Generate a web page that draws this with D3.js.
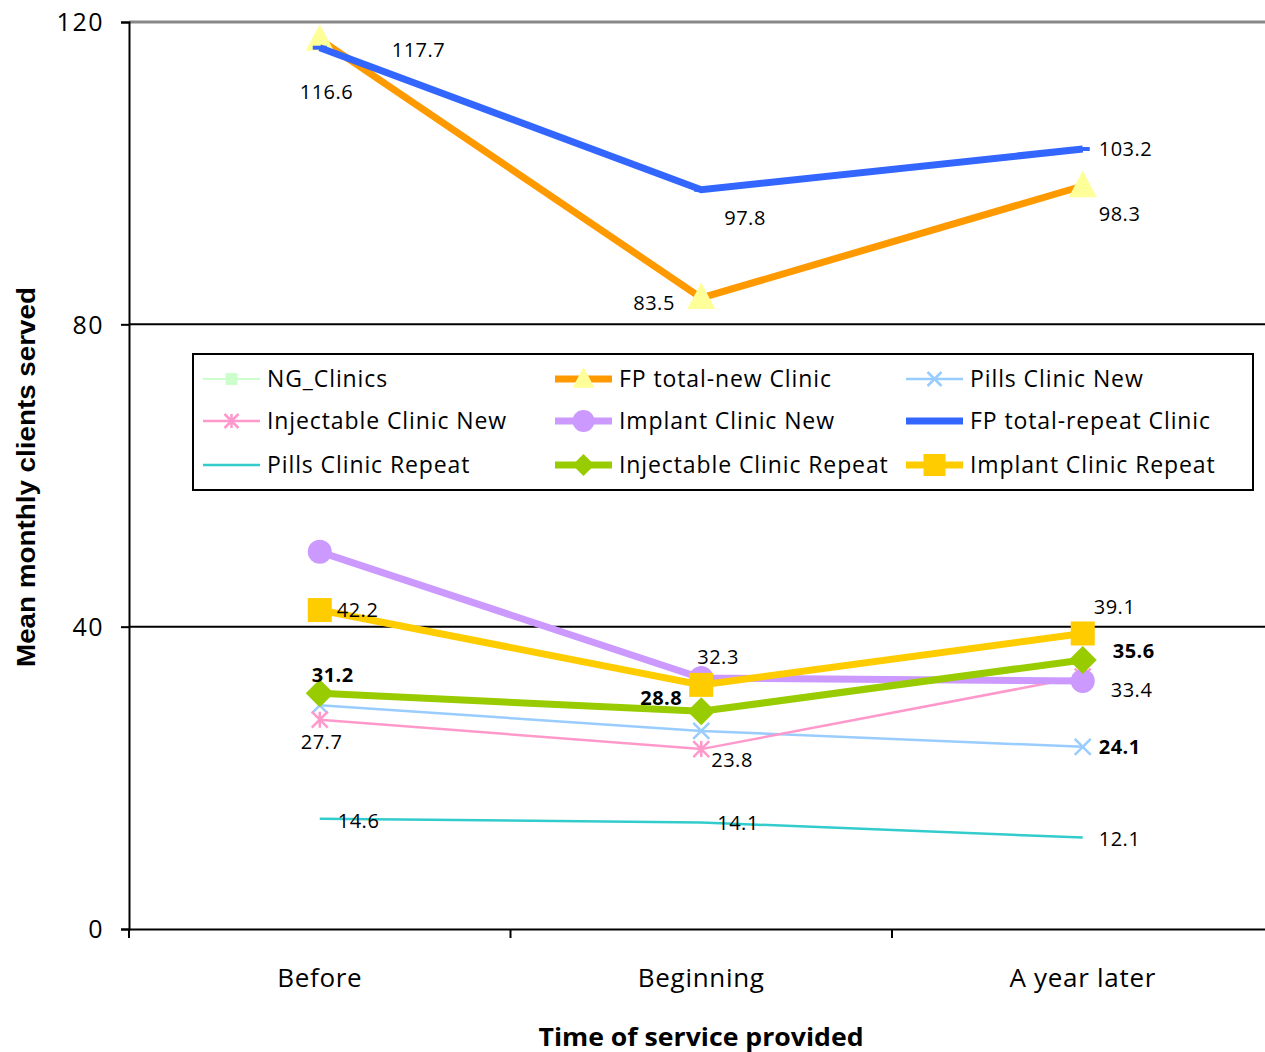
<!DOCTYPE html>
<html><head><meta charset="utf-8">
<script src="https://cdn.jsdelivr.net/npm/d3@7"></script>
<style>body{margin:0;background:#fff;} svg{display:block;}</style>
</head><body>
<svg id="c" width="1265" height="1052"></svg>
<script>
const categories = ["Before", "Beginning", "A year later"];
const yTicks = [0, 40, 80, 120];
const seriesNames = ["NG_Clinics", "FP total-new Clinic", "Pills Clinic New", "Injectable Clinic New", "Implant Clinic New", "FP total-repeat Clinic", "Pills Clinic Repeat", "Injectable Clinic Repeat", "Implant Clinic Repeat"];
const ngClinics = [];
const fpTotalNew = [117.7, 83.5, 98.3];
const pillsNew = [29.6, 26.2, 24.1];
const injectableNew = [27.7, 23.8, 33.4];
const implantNew = [49.9, 33.2, 32.8];
const fpTotalRepeat = [116.6, 97.8, 103.2];
const pillsRepeat = [14.6, 14.1, 12.1];
const injectableRepeat = [31.2, 28.8, 35.6];
const implantRepeat = [42.2, 32.3, 39.1];
// which values carry a data label (by series index, point index)
const labelled = {
  1: [0, 1, 2], 2: [2], 3: [0, 1, 2], 5: [0, 1, 2], 6: [0, 1, 2], 7: [0, 1, 2], 8: [0, 1, 2]
};

const seriesValues = [ngClinics, fpTotalNew, pillsNew, injectableNew, implantNew, fpTotalRepeat, pillsRepeat, injectableRepeat, implantRepeat];

// styles
const styles = [
  {color: "#CCFFCC", width: 2, marker: "square", mfill: "#CCFFCC", msize: 12},
  {color: "#FF9900", width: 7, marker: "triangle", mfill: "#FFFF99", msize: 28},
  {color: "#99CCFF", width: 2.5, marker: "x", mfill: "none", mstroke: "#99CCFF", msize: 16},
  {color: "#FF99CC", width: 2.5, marker: "star", mfill: "none", mstroke: "#FF99CC", msize: 16},
  {color: "#CC99FF", width: 7, marker: "circle", mfill: "#CC99FF", msize: 24},
  {color: "#3366FF", width: 7, marker: "dash", mfill: "#3366FF", msize: 14},
  {color: "#33CCCC", width: 2.5, marker: "none", msize: 0},
  {color: "#99CC00", width: 7, marker: "diamond", mfill: "#99CC00", msize: 28},
  {color: "#FFCC00", width: 7, marker: "square", mfill: "#FFCC00", msize: 24}
];
// label placement: [series-point] -> dx, dy (anchor start), bold
const labelPlace = {
  "1-0": [72, 11, false], "1-1": [-68, 5, false], "1-2": [16, 28, false],
  "2-2": [16, 0, true],
  "3-0": [-19, 22, false], "3-1": [10, 11, false], "3-2": [28, 13, false],
  "5-0": [-20, 44, false], "5-1": [23, 28, false], "5-2": [16, 0, false],
  "6-0": [18, 2, false], "6-1": [16, 1, false], "6-2": [16, 1, false],
  "7-0": [-8, -18, true], "7-1": [-61, -13, true], "7-2": [30, -9, true],
  "8-0": [17, 0, false], "8-1": [-4, -28, false], "8-2": [11, -26, false]
};

const svg = d3.select("#c");
const x = d3.scaleBand().domain(categories).range([129, 1273.5]);
const y = d3.scaleLinear().domain([0, 120]).range([929, 22]);
const cx = c => x(c) + x.bandwidth() / 2;
const FONT = "Open Sans";

// gridlines
svg.append("g").selectAll("line").data(yTicks.filter(t => t > 0)).join("line")
  .attr("x1", 129).attr("x2", 1265).attr("y1", d => y(d)).attr("y2", d => y(d))
  .attr("stroke", d => d === 120 ? "#888" : "#000").attr("stroke-width", d => d === 120 ? 3 : 2);

// y axis
const yAxis = svg.append("g").attr("transform", "translate(129,0)")
  .call(d3.axisLeft(y).tickValues(yTicks).tickSize(8).tickPadding(17));
yAxis.select(".domain").attr("stroke", "#000").attr("stroke-width", 2);
yAxis.selectAll(".tick line").attr("stroke-width", 2);
yAxis.selectAll("text").attr("font-family", FONT).attr("font-size", 25).attr("letter-spacing", 1.5)
  .attr("fill", "#000").attr("dy", "0.35em");

// x axis
const xAxis = svg.append("g").attr("transform", "translate(0,929)")
  .call(d3.axisBottom(x).tickSize(0).tickPadding(40));
xAxis.select(".domain").attr("stroke", "#000").attr("stroke-width", 2);
xAxis.selectAll("text").attr("font-family", FONT).attr("font-size", 26).attr("letter-spacing", 0.7).attr("fill", "#000");
svg.append("g").selectAll("line").data(categories).join("line")
  .attr("x1", d => x(d)).attr("x2", d => x(d)).attr("y1", 929).attr("y2", 938)
  .attr("stroke", "#000").attr("stroke-width", 2);

// axis titles
svg.append("text").attr("x", 701).attr("y", 1046).attr("text-anchor", "middle")
  .attr("font-family", FONT).attr("font-weight", "bold").attr("font-size", 25)
  .attr("textLength", 325).attr("lengthAdjust", "spacingAndGlyphs").text("Time of service provided");
svg.append("text").attr("transform", "translate(35,477) rotate(-90)").attr("text-anchor", "middle")
  .attr("font-family", "Liberation Sans Narrow, Liberation Sans").attr("font-weight", "bold").attr("font-size", 25)
  .attr("textLength", 380).attr("lengthAdjust", "spacingAndGlyphs").text("Mean monthly clients served");

function drawMarker(g, st, px, py) {
  const s = st.msize;
  if (st.marker === "triangle") {
    g.append("path").attr("d", `M${px},${py - s * 0.55}L${px + s / 2},${py + s * 0.4}L${px - s / 2},${py + s * 0.4}Z`).attr("fill", st.mfill);
  } else if (st.marker === "square") {
    g.append("rect").attr("x", px - s / 2).attr("y", py - s / 2).attr("width", s).attr("height", s).attr("fill", st.mfill);
  } else if (st.marker === "circle") {
    g.append("circle").attr("cx", px).attr("cy", py).attr("r", s / 2).attr("fill", st.mfill);
  } else if (st.marker === "diamond") {
    g.append("path").attr("d", `M${px},${py - s / 2}L${px + s / 2},${py}L${px},${py + s / 2}L${px - s / 2},${py}Z`).attr("fill", st.mfill);
  } else if (st.marker === "dash") {
    g.append("line").attr("x1", px - s / 2).attr("x2", px + s / 2).attr("y1", py).attr("y2", py).attr("stroke", st.mfill).attr("stroke-width", 4);
  } else if (st.marker === "x") {
    const h = s / 2;
    g.append("path").attr("d", `M${px - h},${py - h}L${px + h},${py + h}M${px - h},${py + h}L${px + h},${py - h}`).attr("stroke", st.mstroke).attr("stroke-width", 2.5);
  } else if (st.marker === "star") {
    const h = s / 2;
    g.append("path").attr("d", `M${px - h},${py - h}L${px + h},${py + h}M${px - h},${py + h}L${px + h},${py - h}M${px},${py - h}L${px},${py + h}`).attr("stroke", st.mstroke).attr("stroke-width", 2.5);
  }
}

// series
const line = d3.line().x((d, i) => cx(categories[i])).y(d => y(d));
seriesValues.forEach((vals, si) => {
  if (!vals.length) return;
  const st = styles[si];
  const g = svg.append("g");
  g.append("path").datum(vals).attr("d", line).attr("fill", "none").attr("stroke", st.color)
    .attr("stroke-width", st.width).attr("stroke-linejoin", "miter");
  vals.forEach((v, i) => drawMarker(g, st, cx(categories[i]), y(v)));
});

// labels
seriesValues.forEach((vals, si) => {
  (labelled[si] || []).forEach(i => {
    const p = labelPlace[si + "-" + i];
    svg.append("text").attr("x", cx(categories[i]) + p[0]).attr("y", y(vals[i]) + p[1])
      .attr("dy", "0.35em").attr("font-family", FONT).attr("font-size", 20).attr("letter-spacing", 0.5)
      .attr("font-weight", p[2] ? "bold" : "normal").text(vals[i].toFixed(1));
  });
});

// legend
const lg = svg.append("g");
lg.append("rect").attr("x", 193).attr("y", 354).attr("width", 1060).attr("height", 136)
  .attr("fill", "#fff").attr("stroke", "#000").attr("stroke-width", 2);
const colX = [203, 555, 906], rowY = [379, 421, 465];
seriesNames.forEach((name, si) => {
  const c = si % 3, r = Math.floor(si / 3);
  const st = styles[si];
  const x0 = colX[c], yy = rowY[r];
  lg.append("line").attr("x1", x0).attr("x2", x0 + 57).attr("y1", yy).attr("y2", yy)
    .attr("stroke", st.color).attr("stroke-width", st.width);
  const ms = Object.assign({}, st, {msize: st.marker === "dash" ? 0 : Math.min(st.msize, 22)});
  if (st.marker === "square" && si === 0) ms.msize = 12;
  if (st.marker === "x" || st.marker === "star") ms.msize = 14;
  if (ms.msize) drawMarker(lg, ms, x0 + 28.5, yy);
  lg.append("text").attr("x", x0 + 64).attr("y", yy).attr("dy", "0.35em")
    .attr("font-family", FONT).attr("font-size", 23).attr("letter-spacing", 0.9).text(name);
});
</script>
</body></html>
